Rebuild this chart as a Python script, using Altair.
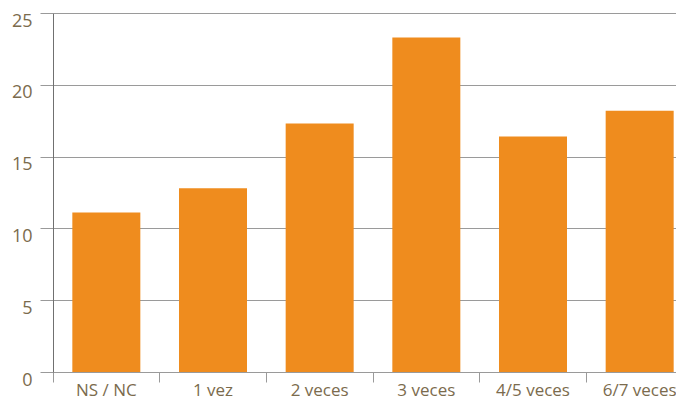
import altair as alt
import pandas as pd

categories = ["NS / NC", "1 vez", "2 veces", "3 veces", "4/5 veces", "6/7 veces"]
values = [11.1, 12.8, 17.3, 23.3, 16.4, 18.2]
y_ticks = [0, 5, 10, 15, 20, 25]

df = pd.DataFrame({"cat": categories, "val": values})

label_color = "#7B6B4D"
grid_color = "#9A9A9A"
font = "Open Sans"

chart = alt.Chart(df).mark_bar(
    color="#EF8C1E", width=alt.RelativeBandSize(0.7584), xOffset=8.5
).encode(
    x=alt.X(
        "cat:N", sort=categories, title=None,
        scale=alt.Scale(paddingInner=0.1594, paddingOuter=0, align=0),
        axis=alt.Axis(
            labelAngle=0, bandPosition=0, tickSize=10, tickColor=grid_color,
            domainColor=grid_color, labelColor=label_color, labelFont=font,
            labelFontSize=17, labelBaseline="alphabetic", labelPadding=13,
            labelOffset=8.5, grid=False,
        ),
    ),
    y=alt.Y(
        "val:Q", title=None,
        scale=alt.Scale(domain=[0, 25], nice=False),
        axis=alt.Axis(
            values=y_ticks, tickSize=13, tickColor=grid_color, gridColor=grid_color,
            grid=True, domainColor="#707070", labelColor=label_color, labelFont=font,
            labelFontSize=18, labelPadding=8, labelOffset=8,
        ),
    ),
).properties(
    width=623, height=359,
    autosize=alt.AutoSizeParams(type="none"),
    padding={"left": 45, "top": 5, "right": 0, "bottom": 27},
).configure_view(stroke=None)

chart.save("out.html", embed_options={"renderer": "svg", "actions": False})
